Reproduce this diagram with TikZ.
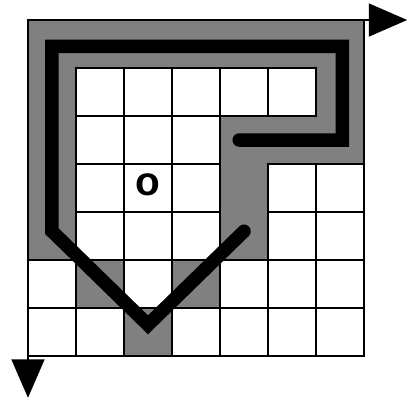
\documentclass[tikz,border=0pt]{standalone}
\usepackage{fontspec}
\usepackage{tikz}
\usepackage{xcolor}
\usetikzlibrary{arrows.meta}
\newfontfamily\labelfont{Liberation Sans}

\begin{document}
\begin{tikzpicture}[
    shaded/.style={fill=black!50},
    cellbox/.style={draw, line width=1.5pt},
    route/.style={line width=8pt, line join=miter, line cap=round},
    axis/.style={line width=1.6pt, -{Triangle[length=0.8cm, width=0.68cm]}}
  ]
  \useasboundingbox (-0.583,-0.917) rectangle (7.958,7.417);
  \coordinate (corner) at (0,7);
  \coordinate (xend) at (7.9,7);
  \coordinate (yend) at (0,-0.87);
  \foreach \c/\r in {0/0,1/0,2/0,3/0,4/0,5/0,6/0,0/1,6/1,0/2,4/2,5/2,6/2,
      0/3,4/3,0/4,4/4,1/5,3/5,2/6}
    \fill[shaded] (\c,6-\r) rectangle ++(1,1);
  \foreach \c/\r in {1/1,2/1,3/1,4/1,5/1,1/2,2/2,3/2,1/3,2/3,3/3,5/3,6/3,
      1/4,2/4,3/4,5/4,6/4,0/5,2/5,4/5,5/5,6/5,0/6,1/6,3/6,4/6,5/6,6/6}
    \draw[cellbox] (\c,6-\r) rectangle ++(1,1);
  \draw[line width=1.5pt] (0,0) rectangle (7,7);
  \node[font=\fontsize{24}{24}\selectfont\labelfont\bfseries] (mark) at (2.5,3.56) {o};
  \draw[route] (4.4,4.5) -- (6.55,4.5) -- (6.55,6.45) -- (0.5,6.45)
    -- (0.5,2.6) -- (2.5,0.65) -- (4.5,2.6);
  \draw[axis] (corner) -- (xend);
  \draw[axis] (corner) -- (yend);
\end{tikzpicture}
\end{document}
